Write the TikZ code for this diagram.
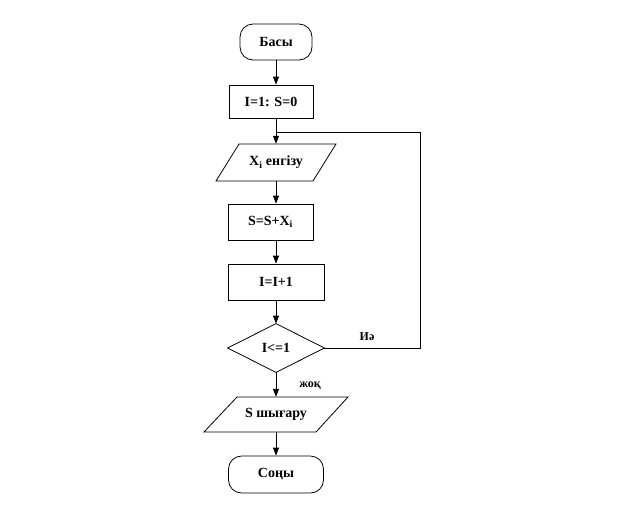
\documentclass[tikz,border=0pt]{standalone}
\usepackage{fontspec}
\setmainfont{Liberation Serif}
\usetikzlibrary{arrows.meta,calc}
\begin{document}
\begin{tikzpicture}[x=1pt,y=-1pt,
  every node/.style={font=\fontsize{14}{16}\selectfont\bfseries, inner sep=0pt},
  term/.style={draw, rounded corners=13pt, line width=0.8pt},
  proc/.style={draw, rectangle, line width=0.8pt},
  iobox/.style={rectangle, draw=none},
  dec/.style={draw, line width=0.8pt},
  lab/.style={font=\fontsize{12}{14}\selectfont\bfseries},
  arr/.style={line width=0.8pt, -{Triangle[length=8pt,width=6pt]}},
  ln/.style={line width=0.8pt}]
\useasboundingbox (0,0) rectangle (621,504);
\fill[white] (0,0) rectangle (621,504);

% nodes
\node[term, minimum width=72pt, minimum height=36pt] (start) at (276,42) {Басы};
\node[proc, minimum width=84pt, minimum height=33pt] (init) at (271,101.5) {I=1: S=0};
\node[iobox, minimum width=74pt, minimum height=37pt] (inp) at (276,162.5) {X\textsubscript{i} енгізу};
\node[proc, minimum width=85pt, minimum height=36pt] (sum) at (270.5,222) {S=S+X\textsubscript{i}};
\node[proc, minimum width=96pt, minimum height=36pt] (inc) at (276,282) {I=I+1};
\node[dec, shape=rectangle, draw=none, minimum width=96pt, minimum height=48pt] (cond) at (276,348) {I<=1};
\node[iobox, minimum width=78pt, minimum height=35pt] (out) at (276,414.5) {S шығару};
\node[term, minimum width=95pt, minimum height=37pt] (stop) at (276,474.5) {Соңы};

% parallelograms and diamond outlines
\draw[ln] (216,181) -- (313,181) -- (336,144) -- (239,144) -- cycle;
\draw[ln] (204,432) -- (316,432) -- (348,397) -- (237,397) -- cycle;
\draw[ln] (cond.west) -- (cond.north) -- (cond.east) -- (cond.south) -- cycle;

% connectors
\draw[arr] (start.south) -- (start.south |- init.north);
\draw[arr] (inp.north |- init.south) -- (inp.north);
\draw[arr] (inp.south) -- (inp.south |- sum.north);
\draw[arr] (inc.north |- sum.south) -- (inc.north);
\draw[arr] (inc.south) -- (cond.north);
\draw[arr] (cond.south) -- (out.north);
\draw[arr] (out.south) -- (stop.north);

\coordinate (r1) at (420,348);
\coordinate (r2) at (420,132);
\coordinate (r3) at (276,132);
\draw[ln] (cond.east) -- (r1) -- (r2) -- (r3);

% labels
\node[lab] (yes) at (367,337) {Иә};
\node[lab] (no) at (310,386) {жоқ};
\end{tikzpicture}
\end{document}
